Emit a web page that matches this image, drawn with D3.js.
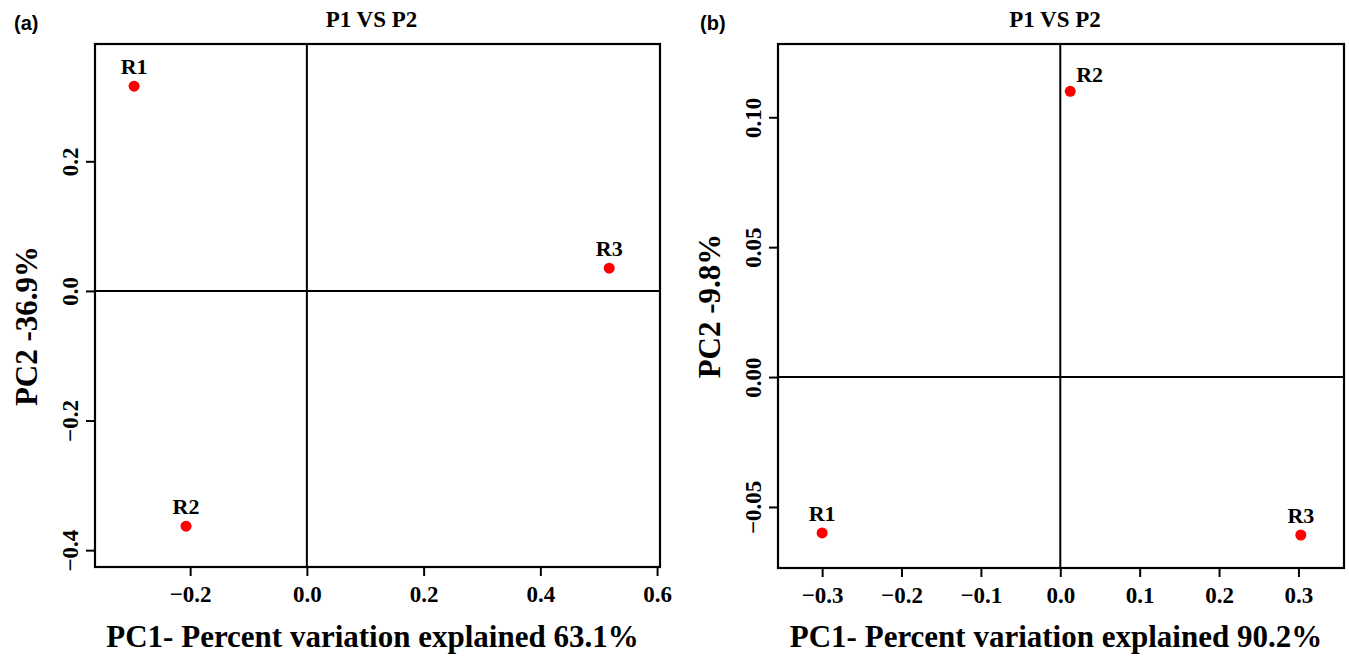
<!DOCTYPE html>
<html>
<head>
<meta charset="utf-8">
<script src="https://cdn.jsdelivr.net/npm/d3@7"></script>
<style>
	body { margin: 0; background: #fff; }
	svg { display: block; }
	text { font-family: "Liberation Serif", "Times New Roman", serif; font-weight: bold; fill: #000; }
</style>
</head>
<body>
<svg width="1349" height="657"></svg>
<script>
// sample names shared by both panels
const samples = ["R1", "R2", "R3"];

// panel (a)
const pc1A = [-0.296, -0.207, 0.518];
const pc2A = [0.316, -0.363, 0.035];
const xTicksA = [-0.2, 0.0, 0.2, 0.4, 0.6];
const yTicksA = [-0.4, -0.2, 0.0, 0.2];

// panel (b)
const pc1B = [-0.300, 0.0125, 0.303];
const pc2B = [-0.060, 0.110, -0.0608];
const xTicksB = [-0.3, -0.2, -0.1, 0.0, 0.1, 0.2, 0.3];
const yTicksB = [-0.05, 0.00, 0.05, 0.10];

const titles = ["P1 VS P2", "P1 VS P2"];
const xLabels = ["PC1- Percent variation explained 63.1%", "PC1- Percent variation explained 90.2%"];
const yLabels = ["PC2 -36.9%", "PC2 -9.8%"];
const tags = ["(a)", "(b)"];

class Panel {
	constructor(box, xDomain, yDomain){
		this.box = box;
		this.svg = d3.select("svg").append("g");
		this.x = d3.scaleLinear().domain(xDomain).range([box.left, box.right]);
		this.y = d3.scaleLinear().domain(yDomain).range([box.bottom, box.top]);
	}

	frame(){
		let b = this.box, x = this.x, y = this.y;
		this.svg.append("line")
			.attr("x1", x(0)).attr("x2", x(0))
			.attr("y1", b.top).attr("y2", b.bottom)
			.attr("stroke", "#000").attr("stroke-width", 2);
		this.svg.append("line")
			.attr("x1", b.left).attr("x2", b.right)
			.attr("y1", y(0)).attr("y2", y(0))
			.attr("stroke", "#000").attr("stroke-width", 2);
		this.svg.append("rect")
			.attr("x", b.left).attr("y", b.top)
			.attr("width", b.right - b.left).attr("height", b.bottom - b.top)
			.attr("fill", "none").attr("stroke", "#000").attr("stroke-width", 2.2);
	}

	axes(xTicks, yTicks, xFmt, yFmt){
		let b = this.box;
		let gx = this.svg.append("g")
			.attr("transform", "translate(0," + b.bottom + ")")
			.call(d3.axisBottom(this.x).tickValues(xTicks).tickFormat(d3.format(xFmt)).tickSize(9).tickSizeOuter(0));
		gx.select(".domain").remove();
		gx.selectAll("line").attr("stroke-width", 2);
		gx.selectAll("text")
			.attr("y", 35).attr("dy", 0)
			.style("font-size", "23px")
			.style("font-family", '"Liberation Serif", serif');

		let gy = this.svg.append("g")
			.attr("transform", "translate(" + b.left + ",0)")
			.call(d3.axisLeft(this.y).tickValues(yTicks).tickFormat(d3.format(yFmt)).tickSize(9).tickSizeOuter(0));
		gy.select(".domain").remove();
		gy.selectAll("line").attr("stroke-width", 2);
		gy.selectAll("text")
			.attr("x", 0).attr("y", -17).attr("dy", 0)
			.attr("text-anchor", "middle")
			.attr("transform", "rotate(-90)")
			.style("font-size", "23px")
			.style("font-family", '"Liberation Serif", serif');
	}

	labels(tag, tagX, title, xLab, yLab, yLabMid){
		let b = this.box, cx = (b.left + b.right) / 2;
		this.svg.append("text").text(tag)
			.attr("x", tagX).attr("y", 30)
			.style("font-family", '"Liberation Sans", Arial, sans-serif')
			.style("font-size", "20px");
		this.svg.append("text").text(title)
			.attr("x", cx - 6).attr("y", 27)
			.attr("text-anchor", "middle")
			.style("font-size", "23px");
		this.svg.append("text").text(xLab)
			.attr("x", cx - 5).attr("y", 647)
			.attr("text-anchor", "middle")
			.style("font-size", "31px");
		this.svg.append("text").text(yLab)
			.attr("text-anchor", "middle")
			.attr("transform", "translate(" + (b.left - 58) + "," + yLabMid + ") rotate(-90)")
			.style("font-size", "31px");
	}

	points(xs, ys, names, pos){
		let x = this.x, y = this.y;
		let data = names.map(function(n, i){ return {name: n, pc1: xs[i], pc2: ys[i], pos: pos[i]}; });

		let g = this.svg.selectAll(".pt").data(data)
			.enter().append("g").attr("class", "pt")
			.attr("transform", function(d){ return "translate(" + x(d.pc1) + "," + y(d.pc2) + ")"; });

		g.append("circle").attr("r", 5.5).attr("fill", "#ff0000");

		g.append("text")
			.text(function(d){ return d.name; })
			.attr("text-anchor", function(d){ return d.pos === "right" ? "start" : "middle"; })
			.attr("x", function(d){ return d.pos === "right" ? 6 : 0; })
			.attr("y", function(d){ return d.pos === "right" ? -9 : -12; })
			.style("font-size", "22px");
	}
}

let a = new Panel({left: 95, right: 660, top: 44, bottom: 567}, [-0.363, 0.605], [-0.426, 0.381]);
a.frame();
a.axes(xTicksA, yTicksA, ".1f", ".1f");
a.points(pc1A, pc2A, samples, ["above", "above", "above"]);
a.labels(tags[0], 14, titles[0], xLabels[0], yLabels[0], 326);

let b = new Panel({left: 778, right: 1344, top: 44, bottom: 568}, [-0.3556, 0.3574], [-0.0735, 0.1282]);
b.frame();
b.axes(xTicksB, yTicksB, ".1f", ".2f");
b.points(pc1B, pc2B, samples, ["above", "right", "above"]);
b.labels(tags[1], 700, titles[1], xLabels[1], yLabels[1], 306);
</script>
</body>
</html>
